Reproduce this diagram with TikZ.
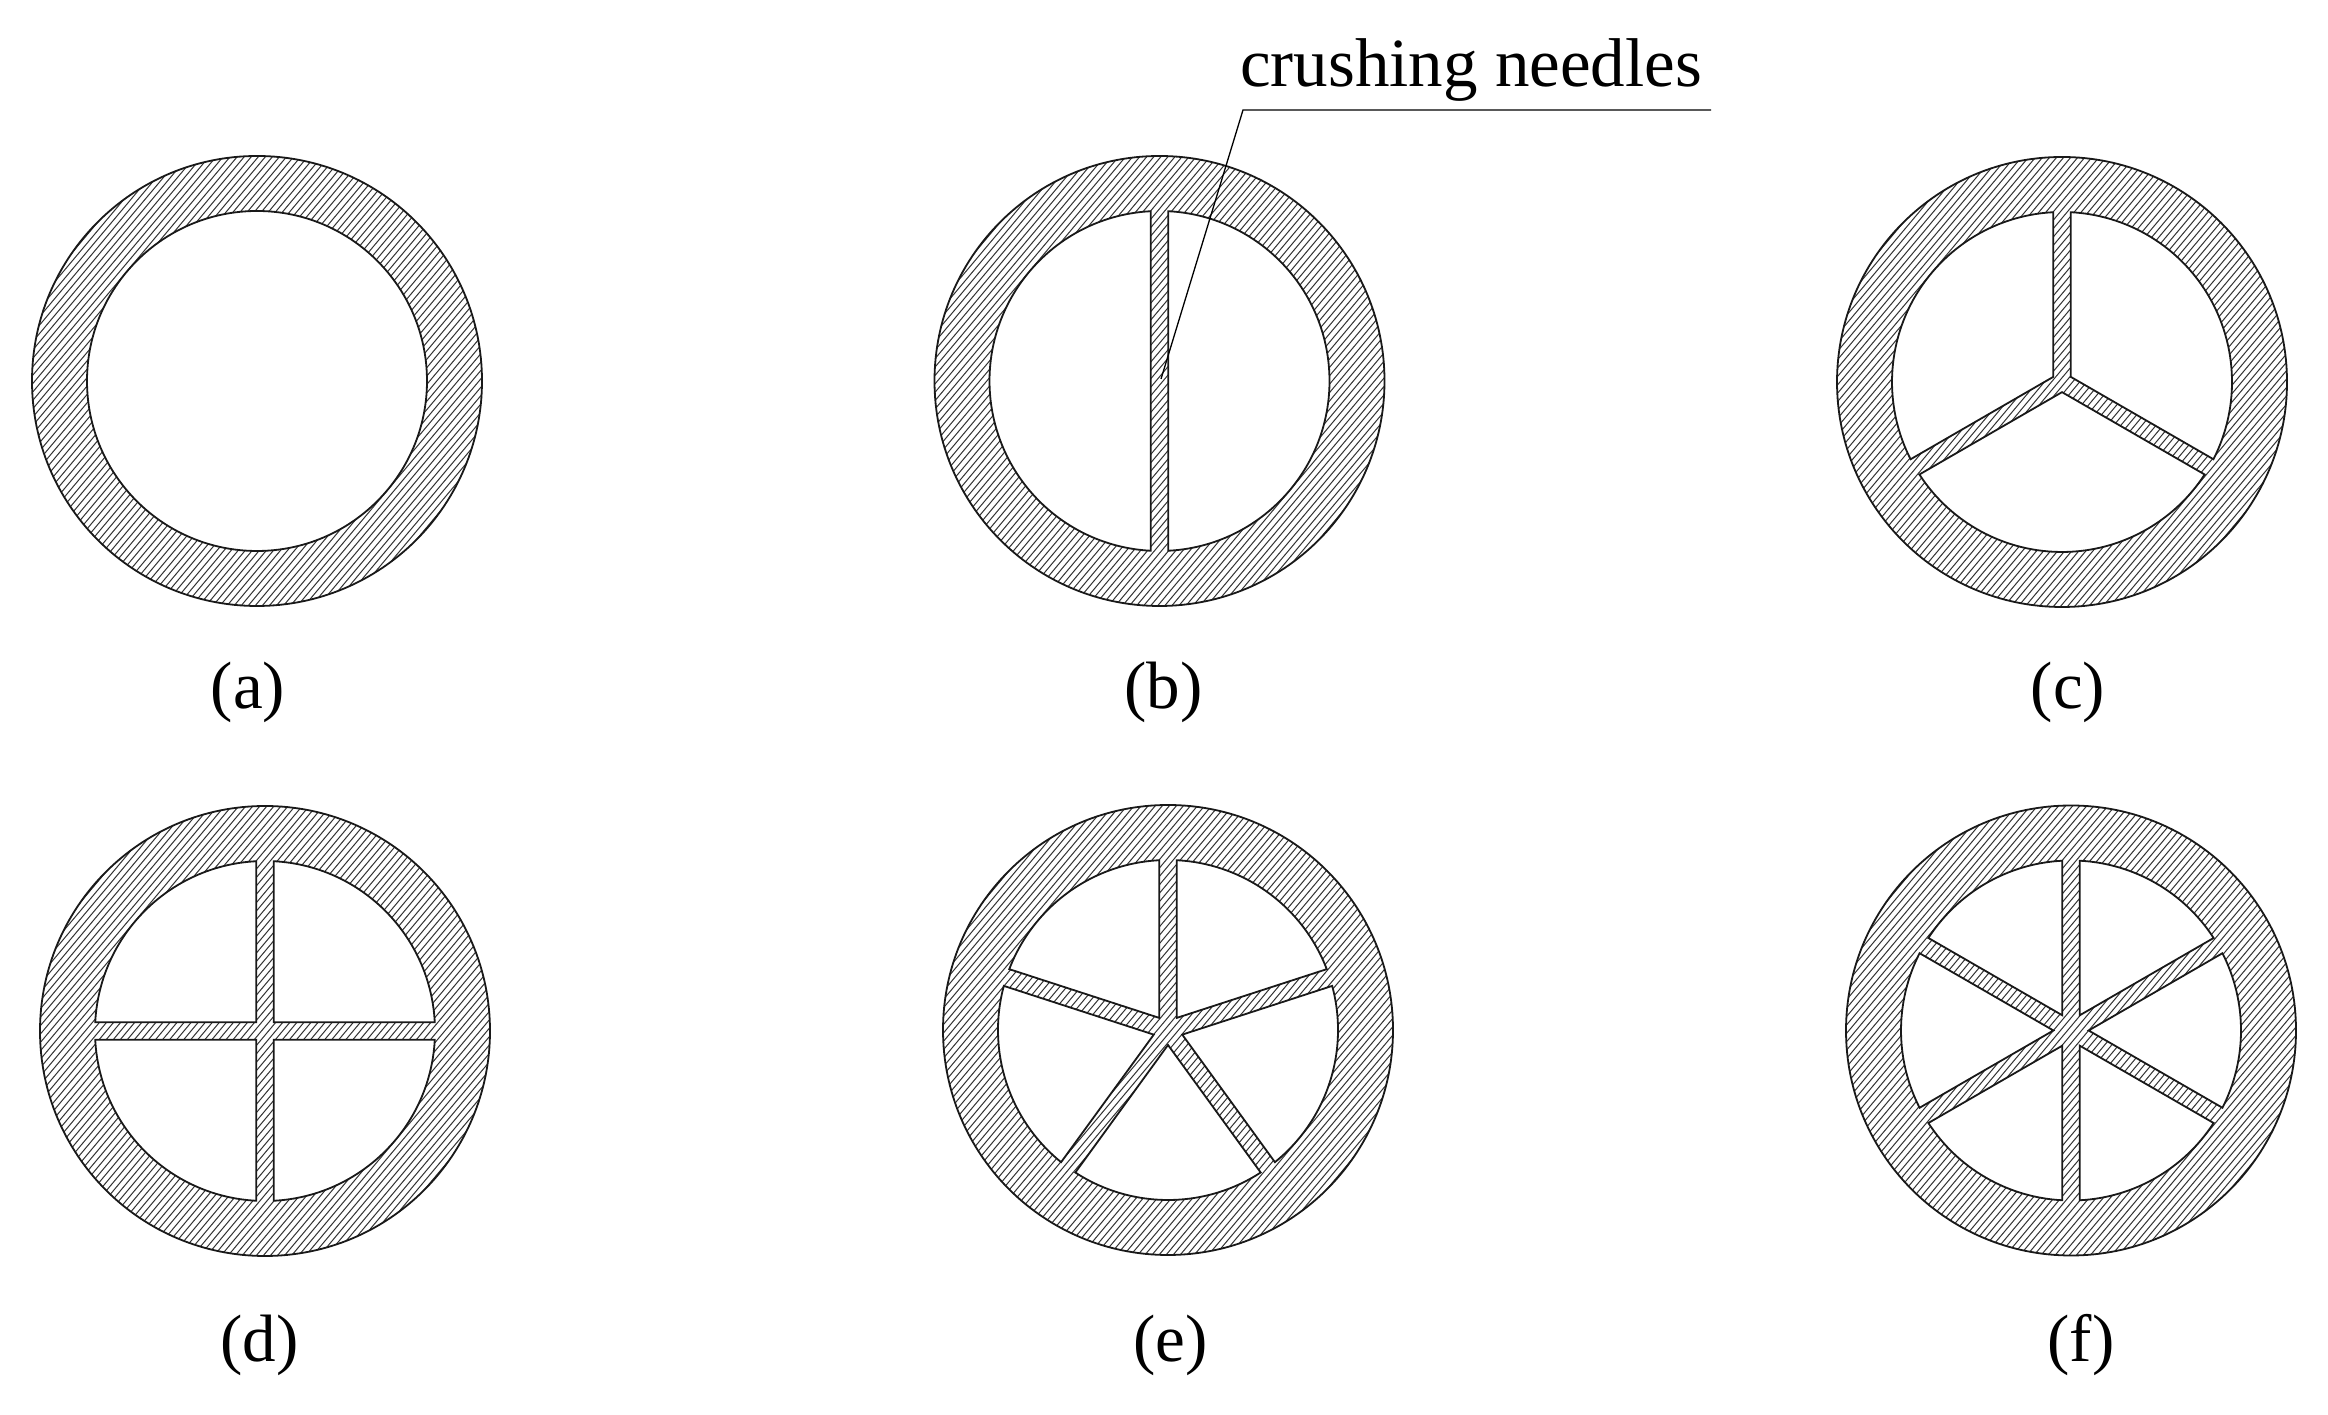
\documentclass[tikz,border=0pt]{standalone}
\usepackage{fontspec}
\setmainfont{Liberation Serif}
\tikzset{
  ringline/.style={line width=1.8pt,draw=black!90},
  hatchline/.style={line width=1pt,draw=black!80},
  leader/.style={line width=1.3pt,draw=black},
  caption/.style={inner sep=0pt,anchor=base,font=\fontsize{67}{84}\selectfont},
  callout/.style={inner sep=0pt,anchor=base west,font=\fontsize{69}{84}\selectfont}
}
% centre x, centre y, list of opening angle pairs (a/b)
\newcommand{\wheel}[3]{%
  \begin{scope}
    \clip (#1,#2) circle[radius=225];
    \begin{scope}[shift={(#1,#2)},rotate=50]
      \foreach \d in {-229.5,-224.1,...,230}{\draw[hatchline] (-235,\d) -- (235,\d);}
    \end{scope}
  \end{scope}
  \draw[ringline] (#1,#2) circle[radius=225];
  \foreach \a/\b in {#3}{%
    \pgfmathsetmacro{\del}{asin(8.8/170)}
    \pgfmathsetmacro{\vd}{8.8/sin((\b-\a)/2)}
    \pgfmathsetmacro{\vm}{(\a+\b)/2}
    \pgfmathsetmacro{\st}{\a+\del}
    \pgfmathsetmacro{\en}{\b-\del}
    \filldraw[ringline,fill=white] ([shift={(#1,#2)}]\vm:\vd) -- ([shift={(#1,#2)}]\st:170)
      arc[start angle=\st,end angle=\en,radius=170] -- cycle;
  }%
}
\begin{document}
\begin{tikzpicture}[x=1pt,y=1pt]
  \useasboundingbox (0,0) rectangle (2328,1415);
  \fill[white] (0,0) rectangle (2328,1415);
  % (a)
  \begin{scope}
    \clip (257,1034) circle[radius=225];
    \begin{scope}[shift={(257,1034)},rotate=50]
      \foreach \d in {-229.5,-224.1,...,230}{\draw[hatchline] (-235,\d) -- (235,\d);}
    \end{scope}
  \end{scope}
  \draw[ringline] (257,1034) circle[radius=225];
  \filldraw[ringline,fill=white] (257,1034) circle[radius=170];
  % (b)-(f)
  \wheel{1159.5}{1034}{90/270,270/450}
  \wheel{2062}{1033}{90/210,210/330,330/450}
  \wheel{265}{384}{0/90,90/180,180/270,270/360}
  \wheel{1168}{385}{18/90,90/162,162/234,234/306,306/378}
  \wheel{2071}{384.5}{30/90,90/150,150/210,210/270,270/330,330/390}
  % captions
  \node[caption] (capa) at (248,706) {(a)};
  \node[caption] (capb) at (1163.5,706) {(b)};
  \node[caption] (capc) at (2068,706) {(c)};
  \node[caption] (capd) at (259.5,53) {(d)};
  \node[caption] (cape) at (1170.5,53) {(e)};
  \node[caption] (capf) at (2081,53) {(f)};
  % leader
  \node[callout] (needles) at (1240,1328) {crushing needles};
  \coordinate (ltip) at (1161,1036);
  \coordinate (lknee) at (1243,1305);
  \coordinate (lend) at (1711,1305);
  \draw[leader] (ltip) -- (lknee) -- (lend);
\end{tikzpicture}
\end{document}
